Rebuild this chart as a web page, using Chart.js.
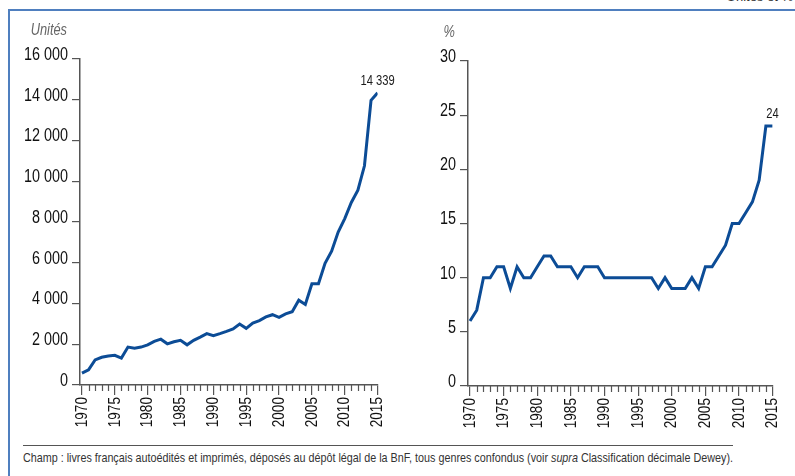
<!DOCTYPE html>
<html lang="fr">
<head>
<meta charset="utf-8">
<script src="https://cdn.jsdelivr.net/npm/chart.js@4.4.1/dist/chart.umd.min.js"></script>
<style>
  html, body { margin: 0; padding: 0; background: #fff; }
  body { width: 795px; height: 476px; position: relative; overflow: hidden;
         font-family: 'Liberation Sans', Arial, sans-serif; }
  #frame { position: absolute; left: 8px; top: 9px; width: 800px; height: 480px;
           border-top: 2px solid #4f7fbf; border-left: 2px solid #4f7fbf; }
  #left { position: absolute; left: 0; top: 0; }
  #right { position: absolute; left: 400px; top: 0; }
  #rule { position: absolute; left: 23px; top: 445px; width: 710px; border-top: 1px solid #555; }
  #note { position: absolute; left: 23px; top: 450px; font-size: 13.5px; color: #333;
          white-space: nowrap; transform-origin: 0 0; }
  #corner { position: absolute; right: 2px; top: -10px; font-size: 13px; line-height: 13px; color: #333; }
</style>
</head>
<body>
<div id="frame"></div>
<div id="corner">Unités et %</div>
<canvas id="left" width="400" height="440"></canvas>
<canvas id="right" width="395" height="440"></canvas>
<div id="rule"></div>
<div id="note">Champ : livres français autoédités et imprimés, déposés au dépôt légal de la BnF, tous genres confondus (voir <i>supra</i> Classification décimale Dewey).</div>
<script>
const FONT = "'Liberation Sans', Arial, sans-serif";

// years 1970 -> 2015
const years = [];
for (let y = 1970; y <= 2015; y++) years.push(y);
const yearLabels = [1970, 1975, 1980, 1985, 1990, 1995, 2000, 2005, 2010, 2015];

// nombre de titres autoédités (unités)
const livres = [
  580, 740, 1230, 1360, 1420, 1460, 1320, 1860, 1810, 1860,
  1970, 2140, 2250, 2020, 2120, 2190, 1970, 2190, 2350, 2520,
  2420, 2520, 2630, 2750, 2990, 2780, 3040, 3160, 3340, 3450,
  3320, 3490, 3600, 4160, 3950, 4970, 4970, 5970, 6570, 7510,
  8170, 8960, 9560, 10760, 13970, 14339
];

// part de l'autoédition (%)
const parts = [
  6, 7, 10, 10, 11, 11, 9, 11, 10, 10,
  11, 12, 12, 11, 11, 11, 10, 11, 11, 11,
  10, 10, 10, 10, 10, 10, 10, 10, 9, 10,
  9, 9, 9, 10, 9, 11, 11, 12, 13, 15,
  15, 16, 17, 19, 24, 24
];

const leftTicks = [0, 2000, 4000, 6000, 8000, 10000, 12000, 14000, 16000];
const rightTicks = [0, 5, 10, 15, 20, 25, 30];

const fmt = v => String(v).replace(/\B(?=(\d{3})+(?!\d))/g, ' ');

// the source uses a condensed face: squeeze canvas text along its own direction
const condense = {
  id: 'condense',
  beforeInit(chart) {
    const ctx = chart.ctx;
    const orig = ctx.fillText.bind(ctx);
    ctx.fillText = (text, x, y) => {
      ctx.save();
      ctx.translate(x, y);
      ctx.scale(0.8, 1);
      orig(text, 0, 0);
      ctx.restore();
    };
  }
};

// small yearly ticks under the x axis
const minorTicks = {
  id: 'minorTicks',
  afterDraw(chart) {
    const sx = chart.scales.x, ctx = chart.ctx, y0 = chart.chartArea.bottom;
    ctx.save();
    ctx.strokeStyle = '#555';
    ctx.lineWidth = 1.2;
    years.forEach(yr => {
      if (yr % 5 === 0) return;
      const px = Math.round(sx.getPixelForValue(yr)) + 0.5;
      ctx.beginPath();
      ctx.moveTo(px, y0);
      ctx.lineTo(px, y0 + 6);
      ctx.stroke();
    });
    ctx.restore();
  }
};

// unit title + last value label
const extras = {
  id: 'extras',
  afterDatasetsDraw(chart, args, opts) {
    const ctx = chart.ctx, area = chart.chartArea;
    ctx.save();
    ctx.font = 'italic 16px ' + FONT;
    ctx.fillStyle = '#666';
    ctx.textAlign = 'right';
    ctx.textBaseline = 'middle';
    ctx.fillText(opts.unit, area.left - 13, area.top - 28);
    const meta = chart.getDatasetMeta(0);
    const pt = meta.data[meta.data.length - 1];
    ctx.font = '14px ' + FONT;
    ctx.fillStyle = '#1a1a1a';
    ctx.textAlign = 'center';
    ctx.textBaseline = 'bottom';
    ctx.fillText(opts.last, pt.x, pt.y - 5);
    ctx.restore();
  }
};

function makeChart(id, values, yTicks, pad, yWidth, unit, last, labelFmt) {
  return new Chart(document.getElementById(id), {
    type: 'line',
    data: {
      datasets: [{
        data: years.map((y, i) => ({ x: y, y: values[i] })),
        borderColor: '#0c4c96',
        borderWidth: 3,
        pointRadius: 0,
        tension: 0,
        fill: false
      }]
    },
    options: {
      responsive: false,
      animation: false,
      events: [],
      layout: { padding: pad },
      plugins: {
        legend: { display: false },
        tooltip: { enabled: false },
        extras: { unit: unit, last: last }
      },
      scales: {
        x: {
          type: 'linear',
          min: 1969.7,
          max: 2015,
          afterBuildTicks: s => { s.ticks = yearLabels.map(v => ({ value: v })); },
          afterFit: s => { s.height = 45; },
          grid: { drawOnChartArea: false, tickLength: 10, tickColor: '#555', lineWidth: 1.2 },
          border: { color: '#555', width: 1.5 },
          ticks: {
            autoSkip: false, minRotation: 90, maxRotation: 90, padding: 2,
            color: '#111', font: { family: FONT, size: 17 },
            callback: v => String(v)
          }
        },
        y: {
          min: yTicks[0],
          max: yTicks[yTicks.length - 1],
          afterBuildTicks: s => { s.ticks = yTicks.map(v => ({ value: v })); },
          afterFit: s => { s.width = yWidth; },
          grid: { drawOnChartArea: false, tickLength: 8, tickColor: '#555', lineWidth: 1.2 },
          border: { color: '#555', width: 1.5 },
          ticks: {
            padding: 4, labelOffset: -4,
            color: '#111', font: { family: FONT, size: 18 },
            callback: labelFmt
          }
        }
      }
    },
    plugins: [condense, minorTicks, extras]
  });
}

makeChart('left', livres, leftTicks, { top: 59, left: 0, right: 12, bottom: 10 }, 80, 'Unités', '14 339', fmt);
makeChart('right', parts, rightTicks, { top: 61, left: 0, right: 18, bottom: 9 }, 68, '%', '24', v => String(v));

// fit the footnote to the width of the rule above it
const note = document.getElementById('note');
note.style.transform = 'scaleX(' + (710 / note.scrollWidth) + ')';
</script>
</body>
</html>
